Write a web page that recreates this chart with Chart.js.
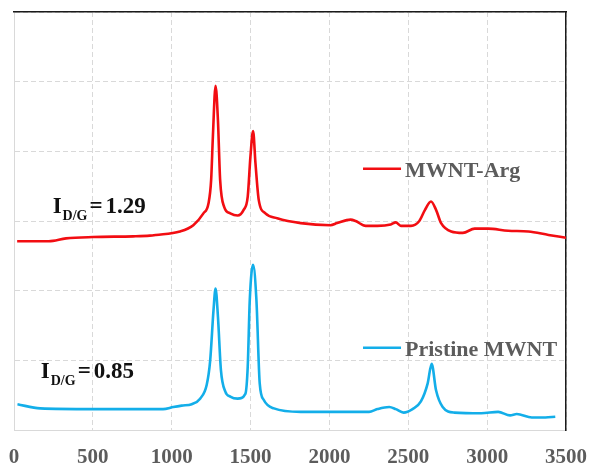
<!DOCTYPE html>
<html>
<head>
<meta charset="utf-8">
<script src="https://cdn.jsdelivr.net/npm/chart.js@4.4.1/dist/chart.umd.min.js"></script>
<style>
  html, body { margin: 0; padding: 0; background: #fff; }
  canvas { display: block; }
</style>
</head>
<body>
<canvas id="ramanChart" width="590" height="466"></canvas>
<script>
// Raman shift (cm-1) and intensity (offset, arbitrary units)
const argShift = [20, 220, 330, 500, 755, 861, 900, 1052, 1137, 1201, 1233, 1250, 1261, 1278, 1293, 1307, 1333, 1371, 1418, 1456, 1482, 1499, 1516, 1531, 1552, 1594, 1669, 1818, 2006, 2049, 2134, 2166, 2230, 2304, 2389, 2421, 2453, 2517, 2570, 2606, 2644, 2676, 2708, 2772, 2846, 2921, 3006, 3133, 3261, 3389, 3500];
const argIntensity = [2.71, 2.71, 2.75, 2.77, 2.78, 2.79, 2.80, 2.85, 2.94, 3.11, 3.25, 3.59, 4.21, 4.94, 4.45, 3.59, 3.20, 3.11, 3.08, 3.16, 3.35, 3.92, 4.29, 3.83, 3.30, 3.11, 3.04, 2.97, 2.94, 2.97, 3.02, 3.00, 2.93, 2.93, 2.95, 2.98, 2.93, 2.93, 3.00, 3.16, 3.28, 3.16, 2.97, 2.85, 2.83, 2.89, 2.89, 2.86, 2.85, 2.80, 2.76];

const pristineShift = [22, 166, 500, 945, 1010, 1063, 1127, 1180, 1222, 1244, 1265, 1278, 1293, 1312, 1340, 1371, 1418, 1467, 1482, 1495, 1516, 1537, 1558, 1584, 1648, 1818, 2027, 2251, 2304, 2379, 2421, 2470, 2527, 2580, 2623, 2648, 2676, 2718, 2793, 2963, 3070, 3145, 3188, 3283, 3369, 3432];
const pristineIntensity = [0.37, 0.31, 0.30, 0.30, 0.33, 0.35, 0.37, 0.45, 0.65, 1.00, 1.72, 2.03, 1.63, 0.86, 0.55, 0.48, 0.45, 0.52, 0.91, 1.87, 2.37, 1.87, 0.67, 0.43, 0.31, 0.26, 0.26, 0.26, 0.30, 0.33, 0.30, 0.25, 0.30, 0.41, 0.67, 0.95, 0.57, 0.33, 0.25, 0.24, 0.26, 0.21, 0.23, 0.18, 0.18, 0.19];

const xTicks = [0, 500, 1000, 1500, 2000, 2500, 3000, 3500];
const seriesNames = ['MWNT-Arg', 'Pristine MWNT'];
const ratioLabels = ['1.29', '0.85'];

const RED = '#f20d12';
const BLUE = '#13aee9';
const SERIF = '"Liberation Serif", "Times New Roman", serif';

const toPoints = (xs, ys) => xs.map((x, i) => ({ x: x, y: ys[i] }));

// In-plot legend entries and I_D/G notes, anchored in data units
const notes = [
    { legendX: 2213, legendY: 3.75, ratioX: 245, ratioY: 3.12, color: RED },
    { legendX: 2213, legendY: 1.18, ratioX: 170, ratioY: 0.75, color: BLUE }
];

const annotationPlugin = {
    id: 'ramanNotes',
    afterDatasetsDraw(chart) {
        const { ctx, scales: { x, y } } = chart;
        ctx.save();
        notes.forEach((n, i) => {
            // legend line + label
            const lx = x.getPixelForValue(n.legendX);
            const ly = y.getPixelForValue(n.legendY);
            ctx.strokeStyle = n.color;
            ctx.lineWidth = 2.6;
            ctx.beginPath();
            ctx.moveTo(lx, ly);
            ctx.lineTo(lx + 38, ly);
            ctx.stroke();
            ctx.fillStyle = '#5c5c5c';
            ctx.font = `bold 22px ${SERIF}`;
            ctx.textBaseline = 'alphabetic';
            ctx.fillText(seriesNames[i], lx + 42, ly + 8);

            // I_D/G = value
            let tx = x.getPixelForValue(n.ratioX);
            const ty = y.getPixelForValue(n.ratioY);
            ctx.fillStyle = '#111';
            ctx.font = `bold 23px ${SERIF}`;
            ctx.fillText('I', tx, ty);
            tx += ctx.measureText('I').width + 1;
            ctx.font = `bold 14px ${SERIF}`;
            ctx.fillText('D/G', tx, ty + 7);
            tx += ctx.measureText('D/G').width + 2;
            ctx.font = `bold 23px ${SERIF}`;
            ctx.fillText('=', tx, ty);
            tx += ctx.measureText('=').width + 3;
            ctx.fillText(ratioLabels[i], tx, ty);
        });
        ctx.restore();
    }
};

const gridColor = '#d9d9d9';

// keep label overhang from shrinking the plot area
const noPadding = (scale) => {
    scale.paddingLeft = 0;
    scale.paddingRight = 0;
    scale.paddingTop = 0;
    scale.paddingBottom = 0;
};

new Chart(document.getElementById('ramanChart'), {
    type: 'line',
    plugins: [annotationPlugin],
    data: {
        datasets: [
            {
                label: seriesNames[0],
                data: toPoints(argShift, argIntensity),
                borderColor: RED,
                borderWidth: 2.6,
                pointRadius: 0,
                cubicInterpolationMode: 'monotone',
                fill: false
            },
            {
                label: seriesNames[1],
                data: toPoints(pristineShift, pristineIntensity),
                borderColor: BLUE,
                borderWidth: 2.6,
                pointRadius: 0,
                cubicInterpolationMode: 'monotone',
                fill: false
            }
        ]
    },
    options: {
        responsive: false,
        animation: false,
        devicePixelRatio: 1,
        layout: { padding: { left: 14, right: 24, top: 12, bottom: 0 } },
        plugins: {
            legend: { display: false },
            tooltip: { enabled: false }
        },
        scales: {
            x: {
                type: 'linear',
                min: 0,
                max: 3500,
                afterBuildTicks: (scale) => { scale.ticks = xTicks.map(v => ({ value: v })); },
                afterFit: (scale) => { scale.height = 36; noPadding(scale); },
                ticks: {
                    color: '#5c5c5c',
                    font: { family: SERIF, size: 21, weight: 'bold' },
                    padding: 15,
                    maxRotation: 0,
                    callback: (value) => String(value)
                },
                grid: { color: gridColor, drawTicks: false },
                border: { color: gridColor, width: 1, dash: [5, 3] }
            },
            y: {
                min: 0,
                max: 6,
                ticks: { display: false, stepSize: 1 },
                afterFit: (scale) => { scale.width = 0; noPadding(scale); },
                grid: { color: gridColor, drawTicks: false },
                border: { color: gridColor, width: 1, dash: [5, 3] }
            },
            xTop: {
                type: 'linear',
                position: 'top',
                min: 0,
                max: 3500,
                ticks: { display: false },
                afterFit: (scale) => { scale.height = 0; noPadding(scale); },
                grid: { drawOnChartArea: false, drawTicks: false },
                border: { color: '#1a1a1a', width: 1.5 }
            },
            yRight: {
                type: 'linear',
                position: 'right',
                min: 0,
                max: 6,
                ticks: { display: false },
                afterFit: (scale) => { scale.width = 0; noPadding(scale); },
                grid: { drawOnChartArea: false, drawTicks: false },
                border: { color: '#1a1a1a', width: 1.5 }
            }
        }
    }
});
</script>
</body>
</html>
